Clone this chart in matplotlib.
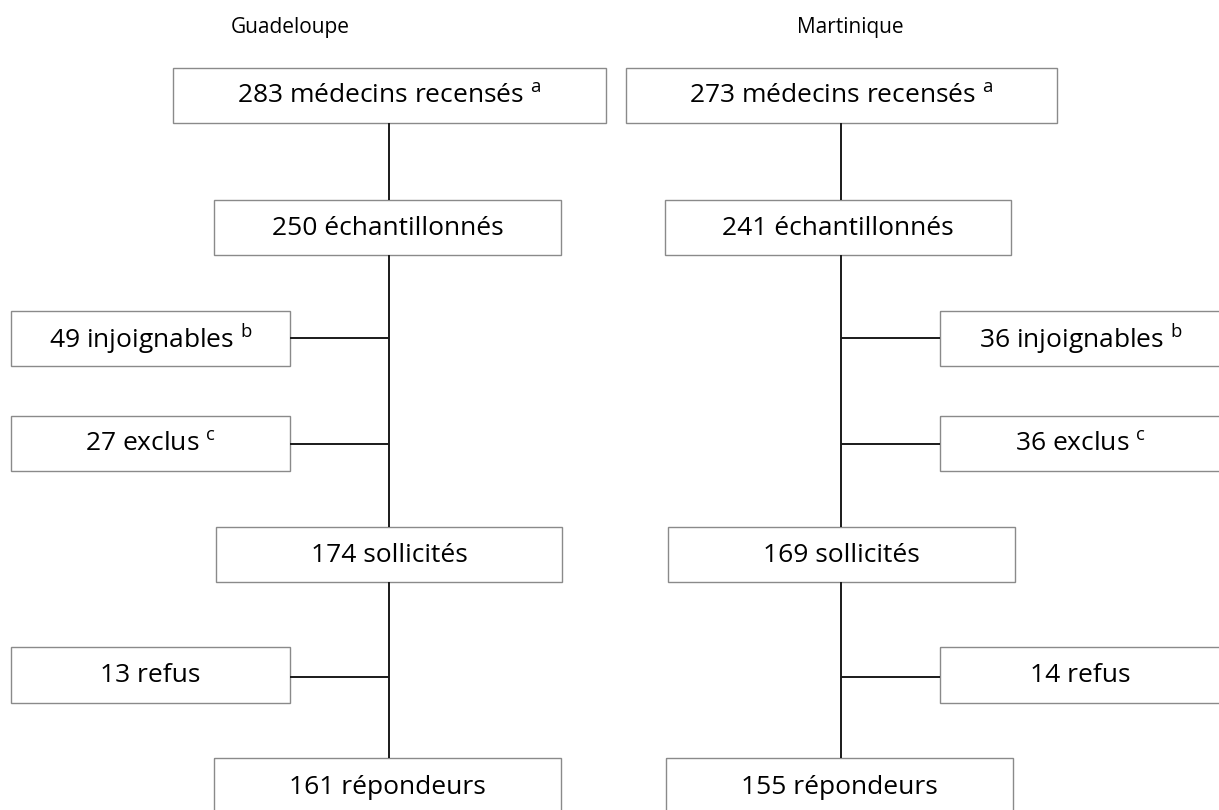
import matplotlib
matplotlib.use("Agg")
import matplotlib.pyplot as plt
from matplotlib.patches import Rectangle

plt.rcParams['font.family'] = ['Open Sans', 'DejaVu Sans']
plt.rcParams['mathtext.fontset'] = 'custom'
plt.rcParams['mathtext.rm'] = 'Open Sans'
plt.rcParams['mathtext.it'] = 'Open Sans'

# ---- data ----
regions = ["Guadeloupe", "Martinique"]
recenses = [283, 273]
echantillonnes = [250, 241]
injoignables = [49, 36]
exclus = [27, 36]
sollicites = [174, 169]
refus = [13, 14]
repondeurs = [161, 155]

# ---- layout (pixel coordinates) ----
W, H = 1219, 810
fig = plt.figure(figsize=(W / 100, H / 100), dpi=100)
ax = fig.add_axes([0, 0, 1, 1])
ax.set_xlim(0, W)
ax.set_ylim(H, 0)
ax.axis('off')

FS = 19
BOX_EC = '#8a8a8a'
LINE_C = '#1a1a1a'


def box(x0, x1, y0, y1, text, sup=None):
    ax.add_patch(Rectangle((x0, y0), x1 - x0, y1 - y0, fill=False,
                           ec=BOX_EC, lw=1.0))
    s = text if sup is None else text + r" $^{\mathrm{" + sup + "}}$"
    ax.text((x0 + x1) / 2, (y0 + y1) / 2 + 1, s, ha='center', va='center',
            fontsize=FS, color='black')


def vline(x, y0, y1):
    ax.plot([x, x], [y0, y1], color=LINE_C, lw=1.4, solid_capstyle='butt')


def hline(y, x0, x1):
    ax.plot([x0, x1], [y, y], color=LINE_C, lw=1.4, solid_capstyle='butt')


cols = [
    dict(title_x=290, b1=(173, 606), b2=(214, 561), b3=(216, 562),
         b4=(214, 561), vx=389, side=(11, 290), left=True),
    dict(title_x=850, b1=(626, 1057), b2=(665, 1011), b3=(668, 1015),
         b4=(666, 1013), vx=841, side=(940, 1221), left=False),
]

for i, c in enumerate(cols):
    ax.text(c['title_x'], 28, regions[i], ha='center', va='center',
            fontsize=15, color='black')
    box(*c['b1'], 68, 123, f"{recenses[i]} médecins recensés", 'a')
    box(*c['b2'], 200, 255, f"{echantillonnes[i]} échantillonnés")
    box(*c['side'], 311, 366, f"{injoignables[i]} injoignables", 'b')
    box(*c['side'], 416, 471, f"{exclus[i]} exclus", 'c')
    box(*c['b3'], 527, 582, f"{sollicites[i]} sollicités")
    box(*c['side'], 647, 703, f"{refus[i]} refus")
    box(*c['b4'], 758, 815, f"{repondeurs[i]} répondeurs")

    vx = c['vx']
    vline(vx, 123, 200)
    vline(vx, 255, 527)
    vline(vx, 582, 758)
    edge = c['side'][1] if c['left'] else c['side'][0]
    for y in (338, 444, 677):
        hline(y, edge, vx)

fig.savefig("out.png", dpi=100)
